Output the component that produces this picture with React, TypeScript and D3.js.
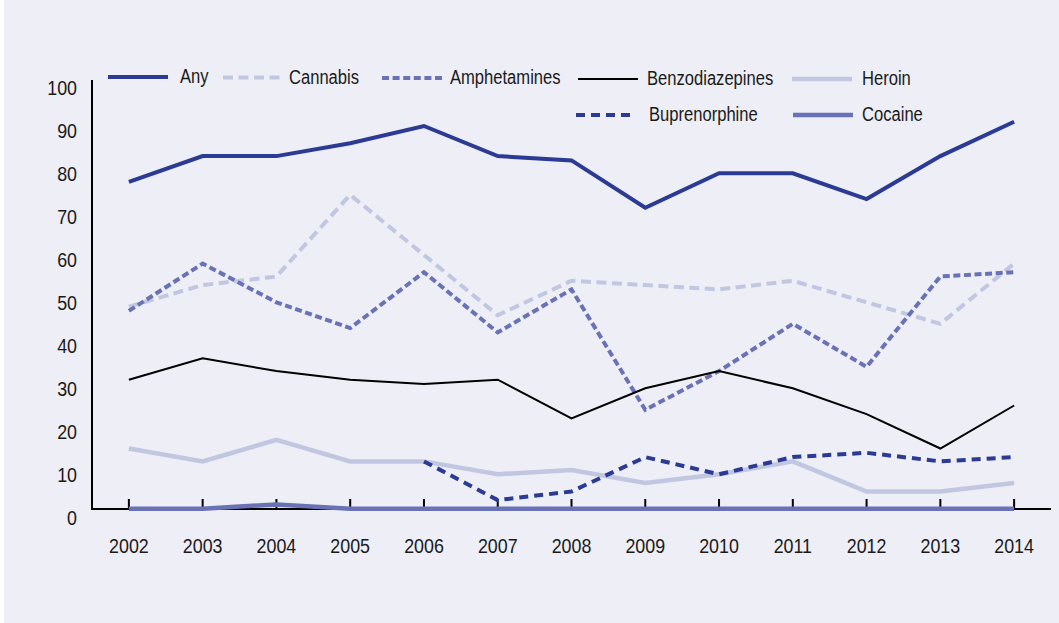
import React from "react";
import * as d3 from "d3";

const years = ["2002","2003","2004","2005","2006","2007","2008","2009","2010","2011","2012","2013","2014"];
const anyVals = [77,83,83,86,90,83,82,71,79,79,73,83,91];
const cannabisVals = [48,53,55,74,60,46,54,53,52,54,49,44,58];
const amphVals = [47,58,49,43,56,42,52,24,33,44,34,55,56];
const benzoVals = [31,36,33,31,30,31,22,29,33,29,23,15,25];
const heroinVals = [15,12,17,12,12,9,10,7,9,12,5,5,7];
const bupreVals: (number|null)[] = [null,null,null,null,12,3,5,13,9,13,14,12,13];
const cocaineVals = [1,1,2,1,1,1,1,1,1,1,1,1,1];
const yTicks = [0,10,20,30,40,50,60,70,80,90,100];

type S = { name: string; values: (number|null)[]; color: string; width: number; dash?: string };
const series: S[] = [
  { name: "Heroin", values: heroinVals, color: "#c2c7e1", width: 4.5 },
  { name: "Cannabis", values: cannabisVals, color: "#c2c7e1", width: 4, dash: "10,5.5" },
  { name: "Amphetamines", values: amphVals, color: "#6a72b6", width: 4, dash: "7,3.6" },
  { name: "Benzodiazepines", values: benzoVals, color: "#000000", width: 2 },
  { name: "Buprenorphine", values: bupreVals, color: "#2b3a92", width: 4, dash: "9,6" },
  { name: "Cocaine", values: cocaineVals, color: "#6a72b6", width: 4.5 },
  { name: "Any", values: anyVals, color: "#2b3a92", width: 4 },
];

const legend = [
  { name: "Any", lx: 108, tx: 180, y: 77 },
  { name: "Cannabis", lx: 223, tx: 289, y: 77.5 },
  { name: "Amphetamines", lx: 382, tx: 450, y: 78 },
  { name: "Benzodiazepines", lx: 578, tx: 647, y: 79 },
  { name: "Heroin", lx: 792, tx: 862, y: 79 },
  { name: "Buprenorphine", lx: 576, tx: 649, y: 115 },
  { name: "Cocaine", lx: 793, tx: 862, y: 115 },
];

const FONT = "'Liberation Sans', Arial, sans-serif";

function Txt({ x, y, anchor, sx, children }: { x: number; y: number; anchor?: string; sx: number; children: React.ReactNode }) {
  return (
    <g transform={`translate(${x},${y}) scale(${sx},1)`}>
      <text x={0} y={0} textAnchor={anchor || "start"} fontSize={21} fill="#1a1a1a">{children}</text>
    </g>
  );
}

export default function App() {
  const W = 1059, H = 623;
  const x = d3.scalePoint<string>().domain(years).range([92, 1051]).padding(0.5);
  const y = d3.scaleLinear().domain([0, 100]).range([513, 83]);
  const axisY = y(0) - 4;
  const line = d3.line<number|null>()
    .defined(d => d !== null)
    .x((_, i) => x(years[i]) as number)
    .y(d => y(d as number));
  const byName: Record<string, S> = {};
  series.forEach(s => (byName[s.name] = s));
  return (
    <div style={{ position: "fixed", left: 0, top: 0 }}>
      <svg width={W} height={H} style={{ display: "block", fontFamily: FONT }}>
        <rect x={0} y={0} width={W} height={H} fill="#ffffff" />
        <rect x={4} y={0} width={W - 4} height={H} fill="#edeef6" />
        <line x1={92} x2={92} y1={y(100) - 3} y2={axisY + 1} stroke="#000" strokeWidth={2} />
        <line x1={91} x2={1051} y1={axisY} y2={axisY} stroke="#000" strokeWidth={2} />
        {years.map(yr => (
          <line key={yr} x1={x(yr)} x2={x(yr)} y1={axisY} y2={axisY - 10} stroke="#000" strokeWidth={2} />
        ))}
        {yTicks.map(t => (
          <Txt key={t} x={77} y={y(t) + 12} anchor="end" sx={0.85}>{t}</Txt>
        ))}
        {years.map(yr => (
          <Txt key={yr} x={x(yr) as number} y={553} anchor="middle" sx={0.85}>{yr}</Txt>
        ))}
        {series.map(s => (
          <path key={s.name} d={line(s.values) || ""} fill="none" stroke={s.color} strokeWidth={s.width}
            strokeDasharray={s.dash} strokeLinejoin="miter" />
        ))}
        {legend.map(l => {
          const s = byName[l.name];
          return (
            <g key={l.name}>
              <line x1={l.lx} x2={l.lx + 60} y1={l.y} y2={l.y} stroke={s.color} strokeWidth={s.width}
                strokeDasharray={s.dash} />
              <Txt x={l.tx} y={l.y + 6} sx={0.79}>{l.name}</Txt>
            </g>
          );
        })}
      </svg>
    </div>
  );
}
